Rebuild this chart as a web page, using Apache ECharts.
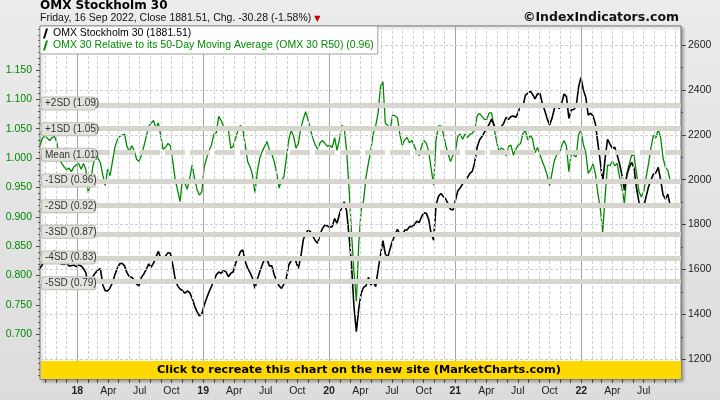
<!DOCTYPE html>
<html>
<head>
<meta charset="utf-8">
<script src="https://cdn.jsdelivr.net/npm/echarts@6/dist/echarts.min.js"></script>
<style>html,body{margin:0;padding:0;background:#e4e4e4}#c{width:720px;height:400px}</style>
</head>
<body>
<div id="c"></div>
<script>
// ---------- DATA ----------
const dates = [
'2017-09-15','2017-09-22','2017-09-29','2017-10-06','2017-10-13','2017-10-20','2017-10-27','2017-11-03','2017-11-10','2017-11-17','2017-11-24','2017-12-01','2017-12-08','2017-12-15','2017-12-22','2017-12-29',
'2018-01-05','2018-01-12','2018-01-19','2018-01-26','2018-02-02','2018-02-09','2018-02-16','2018-02-23','2018-03-02','2018-03-09','2018-03-16','2018-03-23','2018-03-30','2018-04-06','2018-04-13','2018-04-20','2018-04-27','2018-05-04','2018-05-11','2018-05-18','2018-05-25','2018-06-01','2018-06-08','2018-06-15','2018-06-22','2018-06-29','2018-07-06','2018-07-13','2018-07-20','2018-07-27','2018-08-03','2018-08-10','2018-08-17','2018-08-24','2018-08-31','2018-09-07','2018-09-14','2018-09-21','2018-09-28','2018-10-05','2018-10-12','2018-10-19','2018-10-26','2018-11-02','2018-11-09','2018-11-16','2018-11-23','2018-11-30','2018-12-07','2018-12-14','2018-12-21','2018-12-28',
'2019-01-04','2019-01-11','2019-01-18','2019-01-25','2019-02-01','2019-02-08','2019-02-15','2019-02-22','2019-03-01','2019-03-08','2019-03-15','2019-03-22','2019-03-29','2019-04-05','2019-04-12','2019-04-19','2019-04-26','2019-05-03','2019-05-10','2019-05-17','2019-05-24','2019-05-31','2019-06-07','2019-06-14','2019-06-21','2019-06-28','2019-07-05','2019-07-12','2019-07-19','2019-07-26','2019-08-02','2019-08-09','2019-08-16','2019-08-23','2019-08-30','2019-09-06','2019-09-13','2019-09-20','2019-09-27','2019-10-04','2019-10-11','2019-10-18','2019-10-25','2019-11-01','2019-11-08','2019-11-15','2019-11-22','2019-11-29','2019-12-06','2019-12-13','2019-12-20','2019-12-27',
'2020-01-03','2020-01-10','2020-01-17','2020-01-24','2020-01-31','2020-02-07','2020-02-14','2020-02-21','2020-02-28','2020-03-06','2020-03-13','2020-03-20','2020-03-27','2020-04-03','2020-04-10','2020-04-17','2020-04-24','2020-05-01','2020-05-08','2020-05-15','2020-05-22','2020-05-29','2020-06-05','2020-06-12','2020-06-19','2020-06-26','2020-07-03','2020-07-10','2020-07-17','2020-07-24','2020-07-31','2020-08-07','2020-08-14','2020-08-21','2020-08-28','2020-09-04','2020-09-11','2020-09-18','2020-09-25','2020-10-02','2020-10-09','2020-10-16','2020-10-23','2020-10-30','2020-11-06','2020-11-13','2020-11-20','2020-11-27','2020-12-04','2020-12-11','2020-12-18','2020-12-25',
'2021-01-01','2021-01-08','2021-01-15','2021-01-22','2021-01-29','2021-02-05','2021-02-12','2021-02-19','2021-02-26','2021-03-05','2021-03-12','2021-03-19','2021-03-26','2021-04-02','2021-04-09','2021-04-16','2021-04-23','2021-04-30','2021-05-07','2021-05-14','2021-05-21','2021-05-28','2021-06-04','2021-06-11','2021-06-18','2021-06-25','2021-07-02','2021-07-09','2021-07-16','2021-07-23','2021-07-30','2021-08-06','2021-08-13','2021-08-20','2021-08-27','2021-09-03','2021-09-10','2021-09-17','2021-09-24','2021-10-01','2021-10-08','2021-10-15','2021-10-22','2021-10-29','2021-11-05','2021-11-12','2021-11-19','2021-11-26','2021-12-03','2021-12-10','2021-12-17','2021-12-24','2021-12-31',
'2022-01-07','2022-01-14','2022-01-21','2022-01-28','2022-02-04','2022-02-11','2022-02-18','2022-02-25','2022-03-04','2022-03-11','2022-03-18','2022-03-25','2022-04-01','2022-04-08','2022-04-15','2022-04-22','2022-04-29','2022-05-06','2022-05-13','2022-05-20','2022-05-27','2022-06-03','2022-06-10','2022-06-17','2022-06-24','2022-07-01','2022-07-08','2022-07-15','2022-07-22','2022-07-29','2022-08-05','2022-08-12','2022-08-19','2022-08-26','2022-09-02','2022-09-09','2022-09-16'
];

// OMX Stockholm 30 (right axis)
const omx30 = [
1605,1623,1635,1645,1657,1669,1684,1654,1631,1623,
1622,1628,1616,1617,1620,1613,1620,1616,1604,1586,
1524,1546,1571,1586,1598,1604,1531,1506,1504,1518,
1541,1576,1605,1625,1628,1616,1586,1568,1565,1553,
1535,1527,1565,1580,1601,1625,1610,1628,1654,1681,
1651,1645,1660,1675,1672,1620,1556,1527,1513,1506,
1494,1504,1497,1472,1438,1412,1394,
1402,1442,1472,1501,1524,1550,1576,1589,1583,1595,
1590,1568,1583,1590,1628,1650,1680,1687,1635,1605,
1586,1561,1516,1556,1590,1620,1648,1645,1616,1616,
1576,1550,1527,1516,1535,1561,1620,1639,1654,1635,
1605,1657,1731,1761,1773,1769,1749,1728,1717,1758,
1783,1798,1794,1788,1791,1827,1806,1847,1880,1901,
1858,1746,1620,1435,1323,
1427,1494,1521,1527,1565,1531,1546,1524,1598,1665,
1728,1669,1654,1694,1728,1754,1779,1758,1746,1776,
1776,1791,1791,1798,1815,1809,1835,1853,1850,1821,
1758,1731,1887,1925,1939,1925,1914,1892,1868,1865,
1907,1951,1963,1981,1993,2009,2028,2037,2076,2144,
2177,2192,2211,2229,2247,2270,2244,2218,2233,2236,
2251,2278,2269,2281,2284,2278,2299,
2337,2328,2377,2385,2395,2380,2360,2382,2385,2340,
2308,2272,2244,2273,2316,2337,2316,2340,2382,2370,
2273,2311,2313,2325,2411,2456,2400,2367,2288,2296,
2284,2248,2162,2080,1987,2095,2180,2159,2140,2144,
2110,2070,2020,1954,2020,2055,2077,2051,1962,1902,
1877,1880,1925,1969,1999,2025,2031,2055,1999,1932,
1913,1936,1881.51
];

// OMX 30 relative to its 50-day moving average (left axis)
const r50 = [
1.022,1.034,1.038,1.034,1.030,1.035,1.037,1.026,1.000,0.991,
0.985,0.980,0.983,0.977,0.985,0.988,0.991,0.981,0.991,0.980,
0.941,0.963,0.988,1.004,1.000,0.992,0.971,0.953,0.981,0.970,
0.994,1.018,1.031,1.037,1.039,1.041,1.020,1.011,1.021,1.013,
0.998,0.994,1.005,1.020,1.037,1.054,1.059,1.064,1.051,1.060,
1.038,1.015,1.018,1.025,1.021,0.994,0.963,0.945,0.926,0.966,
0.957,0.947,0.966,0.988,0.966,0.947,0.937,
0.943,0.985,1.000,1.013,1.022,1.041,1.043,1.071,1.064,1.054,
1.048,1.049,1.017,1.020,1.034,1.048,1.056,1.049,1.022,0.994,
0.985,0.971,0.941,0.977,1.000,1.011,1.020,1.028,1.014,1.007,
0.994,0.975,0.949,0.962,0.968,1.000,1.031,1.047,1.037,1.017,
1.025,1.051,1.066,1.079,1.065,1.048,1.034,1.022,1.015,1.026,
1.030,1.025,1.020,1.022,1.018,1.035,1.013,1.032,1.056,1.051,
1.011,0.946,0.872,0.807,0.756,
0.855,0.912,0.928,0.968,0.992,1.014,1.042,1.055,1.077,1.122,
1.130,1.059,1.056,1.049,1.073,1.072,1.069,1.041,1.022,1.031,
1.035,1.026,1.030,1.021,1.011,1.004,1.020,1.030,1.025,1.011,
0.981,0.954,1.031,1.055,1.055,1.042,1.022,1.007,0.994,1.005,
1.011,1.037,1.041,1.032,1.041,1.035,1.041,1.042,1.048,1.072,
1.076,1.071,1.066,1.066,1.077,1.077,1.052,1.030,1.011,1.017,
1.015,1.004,1.020,1.022,1.005,1.015,1.022,
1.025,1.042,1.047,1.031,1.039,1.032,1.009,1.018,1.007,0.994,
0.984,0.971,0.953,0.974,0.996,1.006,1.007,1.021,1.030,1.020,
0.977,1.008,1.005,1.002,1.039,1.049,1.023,1.010,0.974,0.980,
0.990,0.973,0.940,0.915,0.874,0.934,0.988,0.987,0.995,0.987,
0.991,0.967,0.948,0.923,0.973,0.990,1.005,1.004,0.974,0.943,
0.934,0.943,0.968,0.991,1.018,1.039,1.034,1.049,1.035,1.000,
0.984,0.979,0.96
];

// Standard-deviation bands of the ratio
const sdNames  = ['+2SD (1.09)','+1SD (1.05)','Mean (1.01)','-1SD (0.96)','-2SD (0.92)','-3SD (0.87)','-4SD (0.83)','-5SD (0.79)'];
const sdLevels = [1.0929, 1.0492, 1.0055, 0.9618, 0.9181, 0.8744, 0.8307, 0.7870];

// Axis ticks / labels
const rightTicks = [1200, 1400, 1600, 1800, 2000, 2200, 2400, 2600];
const leftTicks  = [0.70, 0.75, 0.80, 0.85, 0.90, 0.95, 1.00, 1.05, 1.10, 1.15];
const xLabelDates = ['2018-01-01','2018-04-01','2018-07-01','2018-10-01','2019-01-01','2019-04-01','2019-07-01','2019-10-01',
  '2020-01-01','2020-04-01','2020-07-01','2020-10-01','2021-01-01','2021-04-01','2021-07-01','2021-10-01',
  '2022-01-01','2022-04-01','2022-07-01'];
const monthNames = ['Jan','Feb','Mar','Apr','May','Jun','Jul','Aug','Sep','Oct','Nov','Dec'];
const xMin = '2017-09-15', xMax = '2022-10-17';
const rightRange = [1112.2, 2684.6];
const leftRange  = [0.62389, 1.22491];

const nameOmx = 'OMX Stockholm 30 (1881.51)';
const nameR50 = 'OMX 30 Relative to its 50-Day Moving Average (OMX 30 R50) (0.96)';

// ---------- BUILD ----------
const toTs = s => { const p = s.split('-').map(Number); return new Date(p[0], p[1] - 1, p[2]).getTime(); };
const FONT = '"Liberation Sans", Arial, sans-serif';
const GREEN = '#008a00';

const monthTicks = [];
for (let y = 2017; y <= 2022; y++) for (let m = 0; m < 12; m++) {
  const t = new Date(y, m, 1).getTime();
  if (t > toTs(xMin) && t < toTs(xMax)) monthTicks.push(t);
}
const leftMinor = []; for (let i = 63; i <= 122; i++) leftMinor.push(i / 100);
const rightMinor = []; for (let v = 1200; v <= 2600; v += 100) rightMinor.push(v);

const omxData = dates.map((d, i) => [toTs(d), omx30[i]]);
const r50Data = dates.map((d, i) => [toTs(d), r50[i]]);

const gridLines = [];
monthTicks.forEach(t => {
  const isYear = new Date(t).getMonth() === 0;
  gridLines.push({ xAxis: t, lineStyle: isYear ? { color: '#a3a3a3', width: 1, type: 'solid' } : { color: '#cfcfcf', width: 1, type: [3, 2] } });
});
rightTicks.forEach(v => gridLines.push({ yAxis: v, lineStyle: { color: '#cfcfcf', width: 1, type: [3, 2] } }));

const chart = echarts.init(document.getElementById('c'), null, { renderer: 'canvas' });
chart.setOption({
  animation: false,
  backgroundColor: { type: 'linear', x: 0, y: 0, x2: 0, y2: 1, colorStops: [{ offset: 0, color: '#ececec' }, { offset: 1, color: '#dcdcdc' }] },
  title: [
    { text: 'OMX Stockholm 30', subtext: 'Friday, 16 Sep 2022, Close 1881.51, Chg. -30.28 (-1.58%) {tri|▼}',
      left: 40, top: 0, padding: 0, itemGap: 1,
      textStyle: { fontFamily: '"DejaVu Sans", sans-serif', fontWeight: 'bold', fontSize: 12, color: '#000' },
      subtextStyle: { fontFamily: FONT, fontSize: 10.5, color: '#111', rich: { tri: { color: '#cc0000', fontSize: 8, fontFamily: '"DejaVu Sans"' } } } },
    { text: '©IndexIndicators.com', right: 41, top: 11, padding: 0,
      textStyle: { fontFamily: '"DejaVu Sans", sans-serif', fontWeight: 'bold', fontSize: 12.5, color: '#111' } }
  ],
  legend: {
    z: 20, left: 40, top: 26, orient: 'vertical', padding: [2, 4, 3, 3], itemGap: 1,
    itemWidth: 5, itemHeight: 10, backgroundColor: '#fff', borderColor: '#a0a0a0', borderWidth: 1,
    selectedMode: false, icon: 'path://M3,0 L5,0 L2,10 L0,10 Z',
    textStyle: { fontFamily: FONT, fontSize: 10.5 },
    data: [{ name: nameOmx, textStyle: { color: '#000' } }, { name: nameR50, textStyle: { color: GREEN } }]
  },
  grid: { left: 40, right: 39, top: 26, bottom: 21, show: true, backgroundColor: '#fff',
    borderColor: '#6a6a6a', borderWidth: 1, shadowColor: 'rgba(0,0,0,0.3)', shadowBlur: 3, shadowOffsetX: 2, shadowOffsetY: 2 },
  xAxis: {
    type: 'value', min: toTs(xMin), max: toTs(xMax),
    axisLine: { show: false }, splitLine: { show: false },
    axisTick: { show: true, customValues: monthTicks, length: 4, lineStyle: { color: '#444' } },
    axisLabel: { customValues: xLabelDates.map(toTs), margin: 7, fontFamily: FONT, fontSize: 10.5, color: '#222',
      formatter: v => { const d = new Date(v); return d.getMonth() === 0 ? '{b|' + String(d.getFullYear()).slice(2) + '}' : monthNames[d.getMonth()]; },
      rich: { b: { fontWeight: 'bold', fontFamily: FONT, fontSize: 10.5, color: '#222' } } }
  },
  yAxis: [
    { type: 'value', position: 'left', min: leftRange[0], max: leftRange[1],
      axisLine: { show: false }, splitLine: { show: false },
      axisTick: { show: true, customValues: leftTicks, length: 4, lineStyle: { color: '#444' } },
      axisLabel: { customValues: leftTicks, formatter: v => v.toFixed(3), margin: 8, color: GREEN, fontFamily: FONT, fontSize: 10.5 } },
    { type: 'value', position: 'right', min: rightRange[0], max: rightRange[1],
      axisLine: { show: false }, splitLine: { show: false },
      axisTick: { show: true, customValues: rightTicks, length: 5, lineStyle: { color: '#444' } },
      axisLabel: { customValues: rightTicks, formatter: v => String(v), margin: 7, color: '#222', fontFamily: FONT, fontSize: 10.5 } },
    { type: 'value', position: 'left', min: leftRange[0], max: leftRange[1],
      axisLine: { show: false }, splitLine: { show: false }, axisLabel: { show: false },
      axisTick: { show: true, customValues: leftMinor, length: 2, lineStyle: { color: '#555' } } },
    { type: 'value', position: 'right', min: rightRange[0], max: rightRange[1],
      axisLine: { show: false }, splitLine: { show: false }, axisLabel: { show: false },
      axisTick: { show: true, customValues: rightMinor, length: 2, lineStyle: { color: '#555' } } }
  ],
  series: [
    { name: 'grid', type: 'line', data: [], yAxisIndex: 1, silent: true, z: 1,
      markLine: { silent: true, symbol: ['none', 'none'], animation: false, label: { show: false }, emphasis: { disabled: true }, data: gridLines } },
    { name: 'bands', type: 'line', data: [], yAxisIndex: 0, silent: true, z: 2,
      markLine: { silent: true, symbol: ['none', 'none'], animation: false, label: { show: false }, emphasis: { disabled: true },
        data: sdLevels.map((v, i) => ({ yAxis: v, lineStyle: { color: '#d6d6ce', width: 5, type: i === 2 ? [20, 5] : 'solid' } })) } },
    { name: nameR50, type: 'line', data: r50Data, yAxisIndex: 0, showSymbol: false, symbol: 'none', z: 3,
      lineStyle: { color: GREEN, width: 1.3 }, itemStyle: { color: GREEN }, emphasis: { disabled: true } },
    { name: nameOmx, type: 'line', data: omxData, yAxisIndex: 1, showSymbol: false, symbol: 'none', z: 4,
      lineStyle: { color: '#000', width: 1.6 }, itemStyle: { color: '#000' }, emphasis: { disabled: true } },
    { name: 'sdlabels', type: 'scatter', yAxisIndex: 0, silent: true, z: 6, symbol: 'rect', symbolSize: 0,
      clip: false, itemStyle: { color: '#444', opacity: 1 }, emphasis: { disabled: true },
      data: sdLevels.map((v, i) => ({ value: [toTs(xMin), v], name: sdNames[i] })),
      label: { show: true, position: 'right', distance: 2, formatter: p => p.name, opacity: 1,
        backgroundColor: '#e3e3dd', borderColor: '#bdbdb5', borderWidth: 1, borderRadius: 2,
        padding: [1, 3, 1, 3], width: 47, color: '#333', fontFamily: FONT, fontSize: 10 },
      labelLayout: { hideOverlap: false } }
  ],
  graphic: [
    { type: 'rect', z: 100, shape: { x: 41, y: 361, width: 640, height: 18 }, style: { fill: '#ffd800' } },
    { type: 'text', z: 101, style: { text: 'Click to recreate this chart on the new site (MarketCharts.com)', x: 359, y: 370,
      align: 'center', verticalAlign: 'middle', font: 'bold 11.3px "DejaVu Sans", sans-serif', fill: '#000' } }
  ]
});
</script>
</body>
</html>
